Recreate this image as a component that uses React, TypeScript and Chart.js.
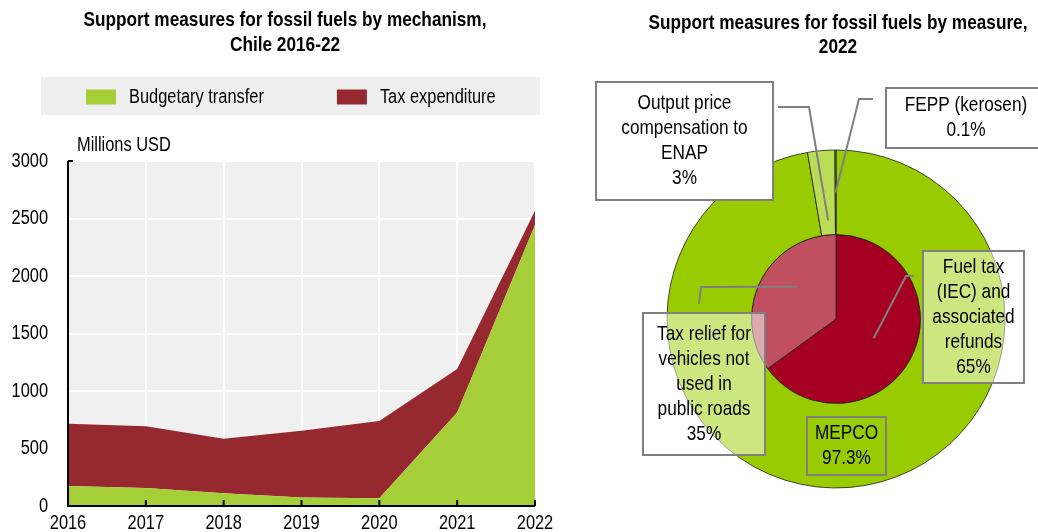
import React, { useEffect, useRef } from 'react';
import { Chart, registerables } from 'chart.js';

Chart.register(...registerables);

const FONT = '"Liberation Sans Narrow", "Arial Narrow", "Liberation Sans", Arial, sans-serif';
const SX = 0.82; // horizontal condensing to mimic a narrow typeface

// ---------- Left chart data ----------
const years = ['2016', '2017', '2018', '2019', '2020', '2021', '2022'];
const budgetaryTransfer = [174, 156, 110, 75, 67, 812, 2443];
const taxExpenditure = [542, 537, 475, 580, 672, 379, 125];
const seriesNames = ['Budgetary transfer', 'Tax expenditure'];
const yMin = 0;
const yMax = 3000;
const yStep = 500;
const leftTitle = ['Support measures for fossil fuels by mechanism,', 'Chile 2016-22'];
const yAxisTitle = 'Millions USD';

// ---------- Right chart data ----------
const rightTitle = ['Support measures for fossil fuels by measure,', '2022'];
const outerLabels = ['MEPCO', 'Output price\ncompensation to\nENAP', 'FEPP (kerosen)'];
const outerValues = [97.3, 2.6, 0.1];
const outerPct = ['97.3%', '3%', '0.1%'];
const innerLabels = ['Fuel tax\n(IEC) and\nassociated\nrefunds', 'Tax relief for\nvehicles not\nused in\npublic roads'];
const innerValues = [65, 35];
const innerPct = ['65%', '35%'];

// ---------- Styles ----------
const GREEN = '#A6CE39';
const RED = '#962830';
const PLOT_BG = '#F0F0F0';
const LEGEND_BG = '#EFEFEF';
const BOX_GREY = '#808080';

// callout layout (relative to pie centre); leader end anchored on arc geometry
const callouts = [
  { ring: 0, idx: 0, box: [-29, 98, 79, 58], fill: null, leader: null },
  { ring: 0, idx: 1, box: [-240, -237, 177, 118], fill: '#ffffff', leader: { start: [-58, -212], elbow: [-27, -212], t: 0.55, f: 0.17 } },
  { ring: 0, idx: 2, box: [50, -231, 160, 60], fill: '#ffffff', leader: { start: [37, -220], elbow: [23, -220], t: 0.5, f: 0.5 } },
  { ring: 1, idx: 0, box: [87, -68, 101, 132], fill: 'rgba(255,255,255,0.5)', leader: { start: [78, -43], elbow: [70, -43], t: 0.5, f: 0.5 } },
  { ring: 1, idx: 1, box: [-193, -6, 122, 142], fill: 'rgba(255,255,255,0.5)', leader: { start: [-137, -15], elbow: [-135, -32], t: 0.6, f: 0.6 } },
];

function narrowText(ctx: CanvasRenderingContext2D, text: string, x: number, y: number, align: CanvasTextAlign) {
  ctx.textAlign = align;
  const w = ctx.measureText(text).width;
  ctx.fillText(text, x, y, w * SX);
}

const leftPlugin = {
  id: 'leftDecor',
  beforeDraw(chart: any) {
    const { ctx, chartArea } = chart;
    ctx.save();
    ctx.fillStyle = PLOT_BG;
    ctx.fillRect(chartArea.left, chartArea.top, chartArea.right - chartArea.left, chartArea.bottom - chartArea.top);
    ctx.fillStyle = LEGEND_BG;
    ctx.fillRect(41, 77, 499, 38);
    ctx.restore();
  },
  afterDatasetsDraw(chart: any) {
    const { ctx, chartArea } = chart;
    const xs = chart.scales.x;
    ctx.save();
    ctx.strokeStyle = '#000';
    ctx.lineWidth = 2;
    ctx.beginPath();
    ctx.moveTo(chartArea.left, chartArea.top);
    ctx.lineTo(chartArea.left, chartArea.bottom);
    ctx.lineTo(chartArea.right, chartArea.bottom);
    ctx.stroke();
    ctx.beginPath();
    ctx.moveTo(chartArea.left, chartArea.top);
    ctx.lineTo(chartArea.left + 5, chartArea.top);
    for (let i = 0; i < years.length; i++) {
      const x = xs.getPixelForTick(i);
      ctx.moveTo(x, chartArea.bottom - 6);
      ctx.lineTo(x, chartArea.bottom);
    }
    ctx.stroke();
    ctx.restore();
  },
  afterDraw(chart: any) {
    const { ctx, chartArea } = chart;
    const xs = chart.scales.x;
    const ys = chart.scales.y;
    ctx.save();
    ctx.fillStyle = '#000';
    ctx.textBaseline = 'middle';
    // title
    ctx.font = `bold 21px ${FONT}`;
    leftTitle.forEach((t, i) => narrowText(ctx, t, 285, 20 + i * 25, 'center'));
    // legend
    ctx.font = `20px ${FONT}`;
    let x = 86;
    const yc = 97;
    chart.data.datasets.forEach((ds: any) => {
      ctx.fillStyle = ds.backgroundColor;
      ctx.fillRect(x, yc - 7.5, 30, 15);
      ctx.fillStyle = '#000';
      narrowText(ctx, ds.label, x + 43, yc, 'left');
      x = x + 43 + ctx.measureText(ds.label).width * SX + 73;
    });
    // axis title
    narrowText(ctx, yAxisTitle, chartArea.left + 9, chartArea.top - 16, 'left');
    // y tick labels
    ys.ticks.forEach((tk: any) => {
      narrowText(ctx, String(tk.value), chartArea.left - 20, ys.getPixelForValue(tk.value), 'right');
    });
    // x tick labels
    ctx.font = `20px ${FONT}`;
    years.forEach((yr, i) => narrowText(ctx, yr, xs.getPixelForTick(i), chartArea.bottom + 17, 'center'));
    ctx.restore();
  },
};

const rightPlugin = {
  id: 'rightCallouts',
  afterDraw(chart: any) {
    const { ctx } = chart;
    const ref = chart.getDatasetMeta(0).data[0];
    const cx = ref.x;
    const cy = ref.y;
    ctx.save();
    ctx.fillStyle = '#000';
    ctx.textBaseline = 'middle';
    ctx.font = `bold 21px ${FONT}`;
    rightTitle.forEach((t, i) => narrowText(ctx, t, cx + 2, 23 + i * 24, 'center'));

    callouts.forEach((c) => {
      const arc = chart.getDatasetMeta(c.ring).data[c.idx];
      const labels = c.ring === 0 ? outerLabels : innerLabels;
      const pcts = c.ring === 0 ? outerPct : innerPct;
      if (c.leader) {
        const p = arc.getProps(['startAngle', 'endAngle', 'innerRadius', 'outerRadius'], true);
        const a = p.startAngle + c.leader.t * (p.endAngle - p.startAngle);
        const r = p.innerRadius + c.leader.f * (p.outerRadius - p.innerRadius);
        const ex = cx + r * Math.cos(a);
        const ey = cy + r * Math.sin(a);
        ctx.strokeStyle = BOX_GREY;
        ctx.lineWidth = 2;
        ctx.beginPath();
        ctx.moveTo(cx + c.leader.start[0], cy + c.leader.start[1]);
        ctx.lineTo(cx + c.leader.elbow[0], cy + c.leader.elbow[1]);
        ctx.lineTo(ex, ey);
        ctx.stroke();
      }
      const [bx, by, bw, bh] = c.box;
      const left = cx + bx;
      const top = cy + by;
      if (c.fill) {
        ctx.fillStyle = c.fill;
        ctx.fillRect(left, top, bw, bh);
      }
      ctx.strokeStyle = BOX_GREY;
      ctx.lineWidth = 2;
      ctx.strokeRect(left, top, bw, bh);
      const lines = labels[c.idx].split('\n').concat([pcts[c.idx]]);
      ctx.fillStyle = '#000';
      ctx.font = `21px ${FONT}`;
      const lh = 25;
      const startY = top + bh / 2 - ((lines.length - 1) * lh) / 2;
      lines.forEach((ln, i) => narrowText(ctx, ln, left + bw / 2, startY + i * lh, 'center'));
    });
    ctx.restore();
  },
};

export default function App() {
  const leftRef = useRef<HTMLCanvasElement>(null);
  const rightRef = useRef<HTMLCanvasElement>(null);

  useEffect(() => {
    document.body.style.margin = '0';
    document.body.style.overflow = 'hidden';

    const left = new Chart(leftRef.current as HTMLCanvasElement, {
      type: 'line',
      data: {
        labels: years,
        datasets: [
          {
            label: seriesNames[0],
            data: budgetaryTransfer,
            backgroundColor: GREEN,
            borderColor: GREEN,
            borderWidth: 0,
            pointRadius: 0,
            fill: 'origin',
            tension: 0,
          },
          {
            label: seriesNames[1],
            data: taxExpenditure,
            backgroundColor: RED,
            borderColor: RED,
            borderWidth: 0,
            pointRadius: 0,
            fill: '-1',
            tension: 0,
          },
        ],
      },
      options: {
        responsive: false,
        animation: false,
        layout: { padding: { left: 68, right: 25, top: 161, bottom: 39 } },
        plugins: {
          legend: { display: false },
          tooltip: { enabled: false },
          title: { display: false },
        },
        scales: {
          x: {
            grid: { color: '#ffffff', lineWidth: 2, drawTicks: false },
            border: { display: false },
            ticks: { display: false, autoSkip: false },
            afterFit: (scale: any) => {
              scale.height = 0;
            },
          },
          y: {
            stacked: true,
            min: yMin,
            max: yMax,
            grid: { color: '#ffffff', lineWidth: 2, drawTicks: false },
            border: { display: false },
            ticks: { display: false, stepSize: yStep },
            afterFit: (scale: any) => {
              scale.width = 0;
            },
          },
        },
      },
      plugins: [leftPlugin],
    } as any);

    const right = new Chart(rightRef.current as HTMLCanvasElement, {
      type: 'doughnut',
      data: {
        labels: outerLabels.map((l) => l.replace(/\n/g, ' ')),
        datasets: [
          {
            label: 'Budgetary transfer',
            data: outerValues,
            backgroundColor: ['#99CC00', '#BBDD55', '#88BB00'],
            borderColor: '#1a1a1a',
            borderWidth: 0.8,
          },
          {
            label: 'Tax expenditure',
            data: innerValues,
            backgroundColor: ['#A50021', '#C0505F'],
            borderColor: '#1a1a1a',
            borderWidth: 0.8,
          },
        ],
      },
      options: {
        responsive: false,
        animation: false,
        cutout: 0,
        radius: 169,
        layout: { padding: { left: 74, right: 0, top: 150, bottom: 44 } },
        plugins: {
          legend: { display: false },
          tooltip: { enabled: false },
          title: { display: false },
        },
      },
      plugins: [rightPlugin],
    } as any);

    return () => {
      left.destroy();
      right.destroy();
    };
  }, []);

  return (
    <div style={{ position: 'relative', width: 1038, height: 532, overflow: 'hidden', background: '#fff' }}>
      <canvas ref={leftRef} width={560} height={545} style={{ position: 'absolute', left: 0, top: 0, width: 560, height: 545 }} />
      <canvas ref={rightRef} width={478} height={532} style={{ position: 'absolute', left: 560, top: 0, width: 478, height: 532 }} />
    </div>
  );
}
